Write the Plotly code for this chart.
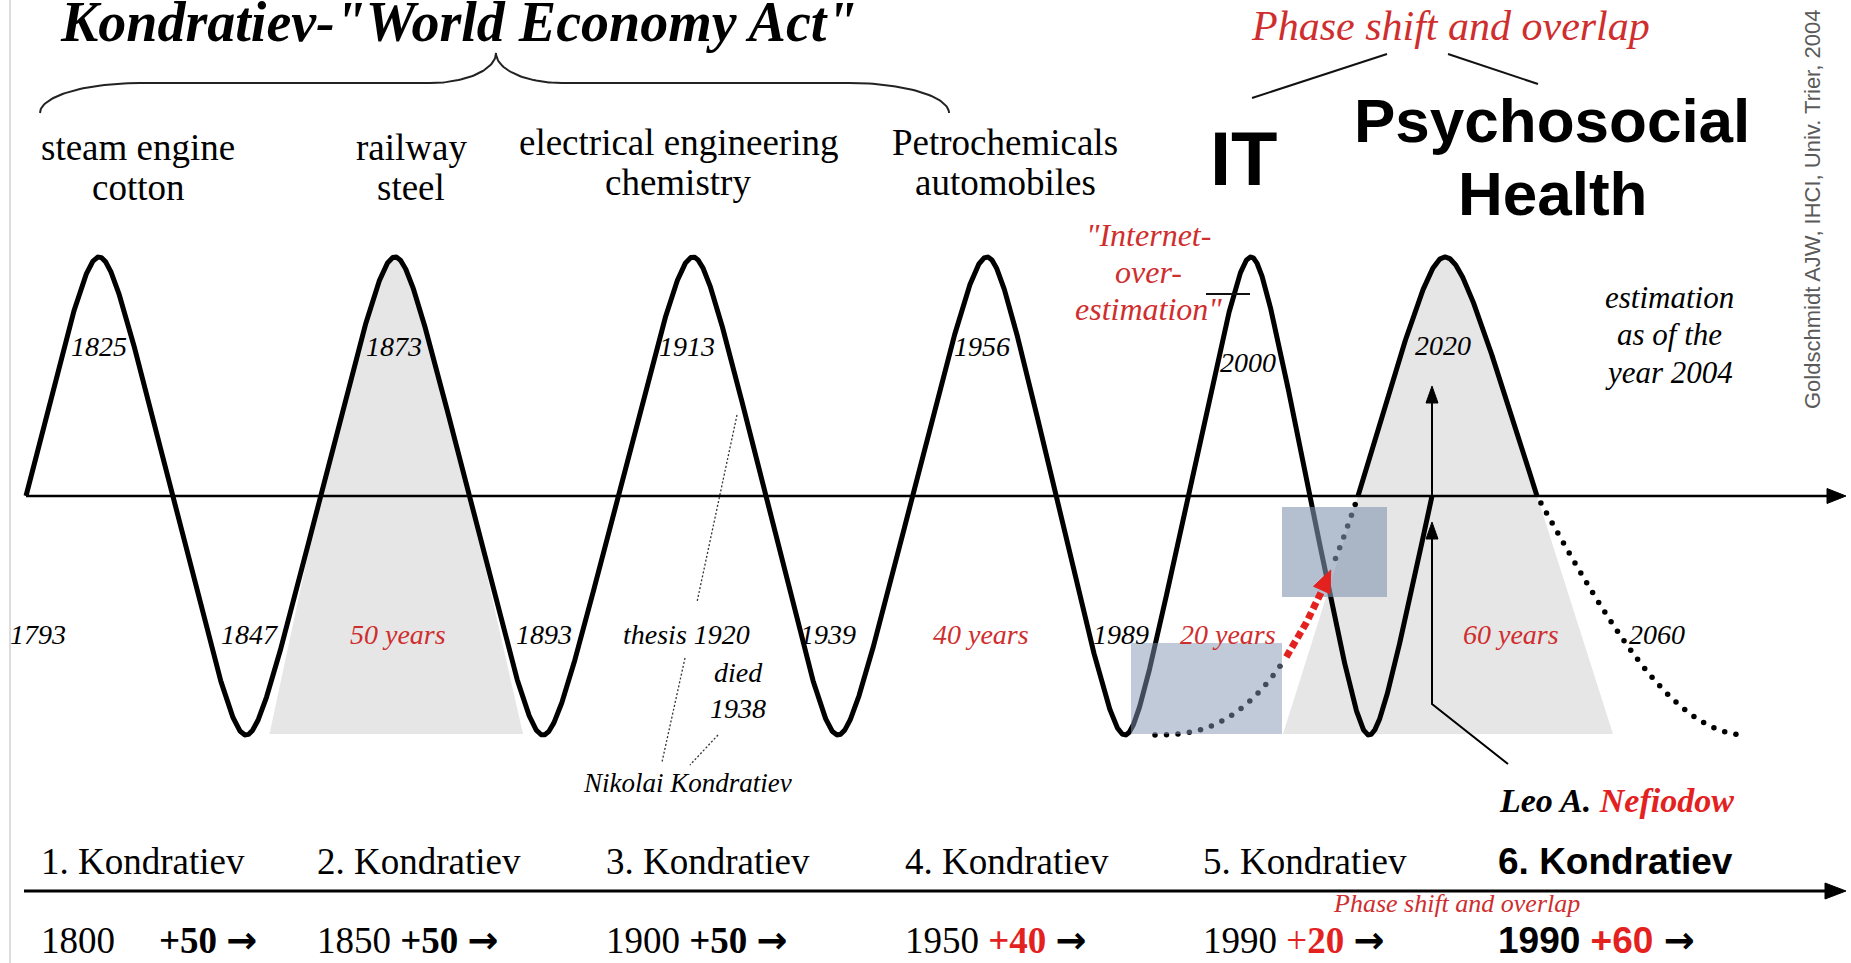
import numpy as np
import plotly.graph_objects as go

# ---------------- data (labels & values) ----------------
title_text = 'Kondratiev-"World Economy Act"'
industries = [["steam engine", "cotton"], ["railway", "steel"],
              ["electrical engineering", "chemistry"], ["Petrochemicals", "automobiles"]]
peak_years = ["1825", "1873", "1913", "1956", "2000", "2020"]
trough_labels = ["1793", "1847", "1893", "thesis 1920", "1939", "1989", "2060"]
cycle_lengths = ["50 years", "40 years", "20 years", "60 years"]
kondratiev_names = ["1. Kondratiev", "2. Kondratiev", "3. Kondratiev",
                    "4. Kondratiev", "5. Kondratiev", "6. Kondratiev"]
start_years = [1800, 1850, 1900, 1950, 1990, 1990]
durations = [50, 50, 50, 40, 20, 60]
new_waves = ["IT", "Psychosocial", "Health"]
note_internet = ['"Internet-', "over-", 'estimation"']
note_estimate = ["estimation", "as of the", "year 2004"]
kondratiev_life = ["died", "1938", "Nikolai Kondratiev"]
credit = "Goldschmidt AJW, IHCI, Univ. Trier, 2004"

# ---------------- schematic geometry ----------------
W, H = 1851, 963
AXIS_Y = 496
AMP = 239
SHARP = 0.93
# wave knots: horizontal position and phase (quarter turns)
main_wave_x = [26, 99, 246, 395, 543, 693, 838, 987, 1125, 1251, 1369, 1432]
main_wave_phase = [0, 1, 3, 5, 7, 9, 11, 13, 15, 17, 19, 20]
sixth_wave_x = [1153, 1358, 1445, 1537, 1747]
sixth_wave_phase = [3, 4, 5, 6, 7]
RISE_POWER = 2.6   # curvature of the projected (dotted) rise

SERIF = "Liberation Serif, Times New Roman, serif"
SANS = "Liberation Sans, Arial, sans-serif"
RED = "#cf2e2e"
RED_B = "#e3221f"
GRAY = "#e6e6e6"


def wave(kx, kp, p0, p1, n=800):
    phi = np.linspace(p0, p1, n)
    x = np.interp(phi, kp, kx)
    th = phi * np.pi / 2
    y = AXIS_Y - AMP * np.arcsin(SHARP * np.sin(th)) / np.arcsin(SHARP)
    return x, y


def rise_branch(x_trough, x_cross, n=1500):
    u = np.linspace(0, 1, n)
    return x_trough + u * (x_cross - x_trough), AXIS_Y + AMP * (1 - u ** RISE_POWER)


def fall_branch(x_cross, x_trough, n=1500):
    u = np.linspace(0, 1, n)
    return x_cross + u * (x_trough - x_cross), AXIS_Y + AMP * np.sin(u * np.pi / 2)


def arc_sample(x, y, step, offset=0.0):
    d = np.hypot(np.diff(x), np.diff(y))
    s = np.concatenate([[0], np.cumsum(d)])
    t = np.arange(offset, s[-1], step)
    return np.interp(t, s, x), np.interp(t, s, y)


def head(tip, back, length, width, color):
    tx, ty = tip
    dx, dy = tx - back[0], ty - back[1]
    n = np.hypot(dx, dy)
    ux, uy = dx / n, dy / n
    px, py = -uy, ux
    bx, by = tx - ux * length, ty - uy * length
    xs = [tx, bx + px * width / 2, bx - px * width / 2, tx]
    ys = [ty, by + py * width / 2, by - py * width / 2, ty]
    return go.Scatter(x=xs, y=ys, mode="lines", fill="toself", fillcolor=color,
                      line=dict(color=color, width=1), hoverinfo="skip")


def line(xs, ys, color="black", width=2, dash=None):
    return go.Scatter(x=xs, y=ys, mode="lines", hoverinfo="skip",
                      line=dict(color=color, width=width, dash=dash))


fig = go.Figure()

# left border
fig.add_trace(line([10, 10], [0, H], color="#d2d2d2", width=1.5))

# gray cycle fills
hx, hy = wave(main_wave_x, main_wave_phase, 4, 6, 300)
fig.add_trace(go.Scatter(x=list(hx) + [hx[-1] + 54, hx[0] - 51, hx[0]],
                         y=list(hy) + [734, 734, hy[0]], mode="lines", fill="toself",
                         fillcolor=GRAY, line=dict(width=0, color=GRAY), hoverinfo="skip"))
sx, sy = wave(sixth_wave_x, sixth_wave_phase, 4, 6, 300)
fig.add_trace(go.Scatter(x=list(sx) + [sx[-1] + 76, sx[0] - 75, sx[0]],
                         y=list(sy) + [734, 734, sy[0]], mode="lines", fill="toself",
                         fillcolor=GRAY, line=dict(width=0, color=GRAY), hoverinfo="skip"))

# main wave
mx, my = wave(main_wave_x, main_wave_phase, 0, 20, 4000)
fig.add_trace(line(mx, my, width=5))
# sixth wave solid hump
fig.add_trace(line(sx, sy, width=5))

# sixth wave dotted branches
rx, ry = rise_branch(sixth_wave_x[0], sixth_wave_x[1])
low = ry > 657
red = (ry <= 657) & (ry >= 592)
up = ry < 564
dots_x, dots_y = [], []
for m, off in ((low, 2), (up, 6)):
    ax_, ay_ = arc_sample(rx[m], ry[m], 11.5, off)
    dots_x += list(ax_); dots_y += list(ay_)
dx_, dy_ = fall_branch(sixth_wave_x[3], sixth_wave_x[4])
ax_, ay_ = arc_sample(dx_, dy_, 11.5, 8)
dots_x += list(ax_); dots_y += list(ay_)
fig.add_trace(go.Scatter(x=dots_x, y=dots_y, mode="markers", hoverinfo="skip",
                         marker=dict(color="black", size=5.5)))

# highlight boxes (drawn over the curves)
boxes = [(1131, 1282, 643, 734, "rgba(130,150,178,0.50)"),
         (1282, 1387, 507, 597, "rgba(130,148,175,0.60)")]
for x0, x1, y0, y1, c in boxes:
    fig.add_trace(go.Scatter(x=[x0, x1, x1, x0, x0], y=[y0, y0, y1, y1, y0], mode="lines",
                             fill="toself", fillcolor=c, line=dict(width=0, color=c),
                             hoverinfo="skip"))

# red dashed overlap arrow
fig.add_trace(line(rx[red], ry[red], color=RED_B, width=7, dash="7px,4px"))
ri = np.where(red)[0][-1]
tip_i = np.argmin(np.abs(ry - 570))
fig.add_trace(head((rx[tip_i], ry[tip_i]), (rx[ri - 60], ry[ri - 60]), 22, 18, RED_B))

# time axis with arrow
fig.add_trace(line([26, 1828], [AXIS_Y, AXIS_Y], width=2.5))
fig.add_trace(head((1846, AXIS_Y), (1800, AXIS_Y), 19, 15, "black"))
# lower axis
fig.add_trace(line([24, 1826], [891, 891], width=3))
fig.add_trace(head((1846, 891), (1800, 891), 21, 16, "black"))


# brace
def brace(x0, x1, xm, y_end, y_bar, y_tip, r_out, r_in):
    t = np.linspace(0, np.pi / 2, 40)
    ry_ = y_end - y_bar
    ri_ = y_bar - y_tip
    lx = list(x0 + r_out - r_out * np.cos(t)) + list(xm - r_in + r_in * np.sin(t))
    ly = list(y_end - ry_ * np.sin(t)) + list(y_tip + ri_ * np.cos(t))
    rxs = list(xm + r_in - r_in * np.sin(t[::-1])) + list(x1 - r_out + r_out * np.cos(t[::-1]))
    rys = list(y_tip + ri_ * np.cos(t[::-1])) + list(y_end - ry_ * np.sin(t[::-1]))
    return lx + rxs, ly + rys


bx, by = brace(40, 949, 496, 113, 83, 53, 100, 66)
fig.add_trace(line(bx, by, color="#222", width=2))

# connectors for phase shift
fig.add_trace(line([1387, 1252], [54, 98], color="#111", width=2))
fig.add_trace(line([1448, 1538], [54, 84], color="#111", width=2))
# short internet mark
fig.add_trace(line([1206, 1250], [294, 294], color="#111", width=2))
# Kondratiev pointer dotted lines
for xs, ys in [([737, 697], [415, 602]), ([685, 662], [658, 762]), ([718, 690], [735, 765])]:
    fig.add_trace(line(xs, ys, color="#333", width=1.3, dash="2px,2px"))

# Nefiodow arrows
fig.add_trace(line([1432, 1432], [496, 402], width=2))
fig.add_trace(head((1432, 386), (1432, 450), 17, 12, "black"))
fig.add_trace(line([1508, 1432, 1432], [764, 704, 538], width=2))
fig.add_trace(head((1432, 522), (1432, 600), 17, 12, "black"))


# ---------------- text ----------------
def txt(s, x, baseline, size, family=SERIF, color="black", xanchor="center", k=0.34):
    fig.add_annotation(x=x, y=baseline - k * size, text=s, showarrow=False,
                       xref="x", yref="y", xanchor=xanchor, yanchor="middle",
                       font=dict(family=family, size=size, color=color))


txt("<b><i>%s</i></b>" % title_text, 458, 41, 56)

ind_x = [138, 411, 678, 1005]
ind_base = [(160, 200), (160, 200), (155, 195), (155, 195)]
for (a, b), x, (b1, b2) in zip(industries, ind_x, ind_base):
    txt(a, x, b1, 37)
    txt(b, x, b2, 37)

txt("<i>Phase shift and overlap</i>", 1450, 40, 42, color=RED)
txt("<b>%s</b>" % new_waves[0], 1244, 185, 76, family=SANS, k=0.3465)
txt("<b>%s</b>" % new_waves[1], 1552, 142, 62, family=SANS, k=0.3465)
txt("<b>%s</b>" % new_waves[2], 1552, 215, 62, family=SANS, k=0.3465)

fig.add_annotation(x=1812, y=210, text=credit, showarrow=False, textangle=-90,
                   xref="x", yref="y", xanchor="center", yanchor="middle",
                   font=dict(family=SANS, size=22, color="#5a5a5a"))

peak_x = [99, 394, 687, 982, 1248, 1443]
peak_base = [356, 356, 356, 356, 372, 355]
for s, x, b in zip(peak_years, peak_x, peak_base):
    txt("<i>%s</i>" % s, x, b, 28)

trough_x = [38, 249, 544, 686, 828, 1121, 1657]
for s, x in zip(trough_labels, trough_x):
    txt("<i>%s</i>" % s, x, 644, 28)
cyc_x = [398, 981, 1228, 1511]
for s, x in zip(cycle_lengths, cyc_x):
    txt("<i>%s</i>" % s, x, 644, 28, color=RED)

for s, b in zip(note_internet, [246, 283, 320]):
    txt("<i>%s</i>" % s, 1148, b, 32, color=RED)
for s, b in zip(note_estimate, [308, 345, 383]):
    txt("<i>%s</i>" % s, 1669, b, 31)

txt("<i>%s</i>" % kondratiev_life[0], 738, 682, 28)
txt("<i>%s</i>" % kondratiev_life[1], 738, 718, 28)
txt("<i>%s</i>" % kondratiev_life[2], 687, 792, 27)

txt("<b><i>Leo A. <span style='color:%s'>Nefiodow</span></i></b>" % RED_B, 1616, 812, 34)

k_x = [39, 315, 604, 903, 1201, 1496]
for i, (s, x) in enumerate(zip(kondratiev_names, k_x)):
    if i == 5:
        txt("<b>%s</b>" % s, x, 874, 37, family=SANS, xanchor="left", k=0.3465)
    else:
        txt(s, x, 874, 37, xanchor="left")

txt("<i>Phase shift and overlap</i>", 1456, 912, 26, color=RED)

ARW = "<span style='font-family:DejaVu Sans;font-weight:bold'>\u2192</span>"
BASE_B = 953
for i, (y0, d, x) in enumerate(zip(start_years, durations, k_x)):
    if i == 0:
        txt(str(y0), x, BASE_B, 37, xanchor="left")
        txt("<b>+%d</b> %s" % (d, ARW), 157, BASE_B, 37, xanchor="left")
    elif i < 3:
        txt("%d <b>+%d</b> %s" % (y0, d, ARW), x, BASE_B, 37, xanchor="left")
    elif i == 3:
        txt("%d <span style='color:%s'><b>+%d</b></span> %s" % (y0, RED_B, d, ARW), x, BASE_B, 37,
            xanchor="left")
    elif i == 4:
        txt("%d <span style='color:%s'>+<b>%d</b></span> %s" % (y0, RED_B, d, ARW), x, BASE_B, 37,
            xanchor="left")
    else:
        txt("<b>%d <span style='color:%s'>+%d</span> %s</b>" % (y0, RED_B, d, ARW), x, BASE_B, 37,
            family=SANS, xanchor="left", k=0.3465)

fig.update_layout(
    width=W, height=H, margin=dict(l=0, r=0, t=0, b=0),
    paper_bgcolor="white", plot_bgcolor="white", showlegend=False, hovermode=False,
    xaxis=dict(range=[0, W], visible=False, fixedrange=True),
    yaxis=dict(range=[H, 0], visible=False, fixedrange=True),
)

fig.write_html("out.html", config={"displayModeBar": False},
               post_script="document.body.style.margin='0';document.body.style.overflow='hidden';")
